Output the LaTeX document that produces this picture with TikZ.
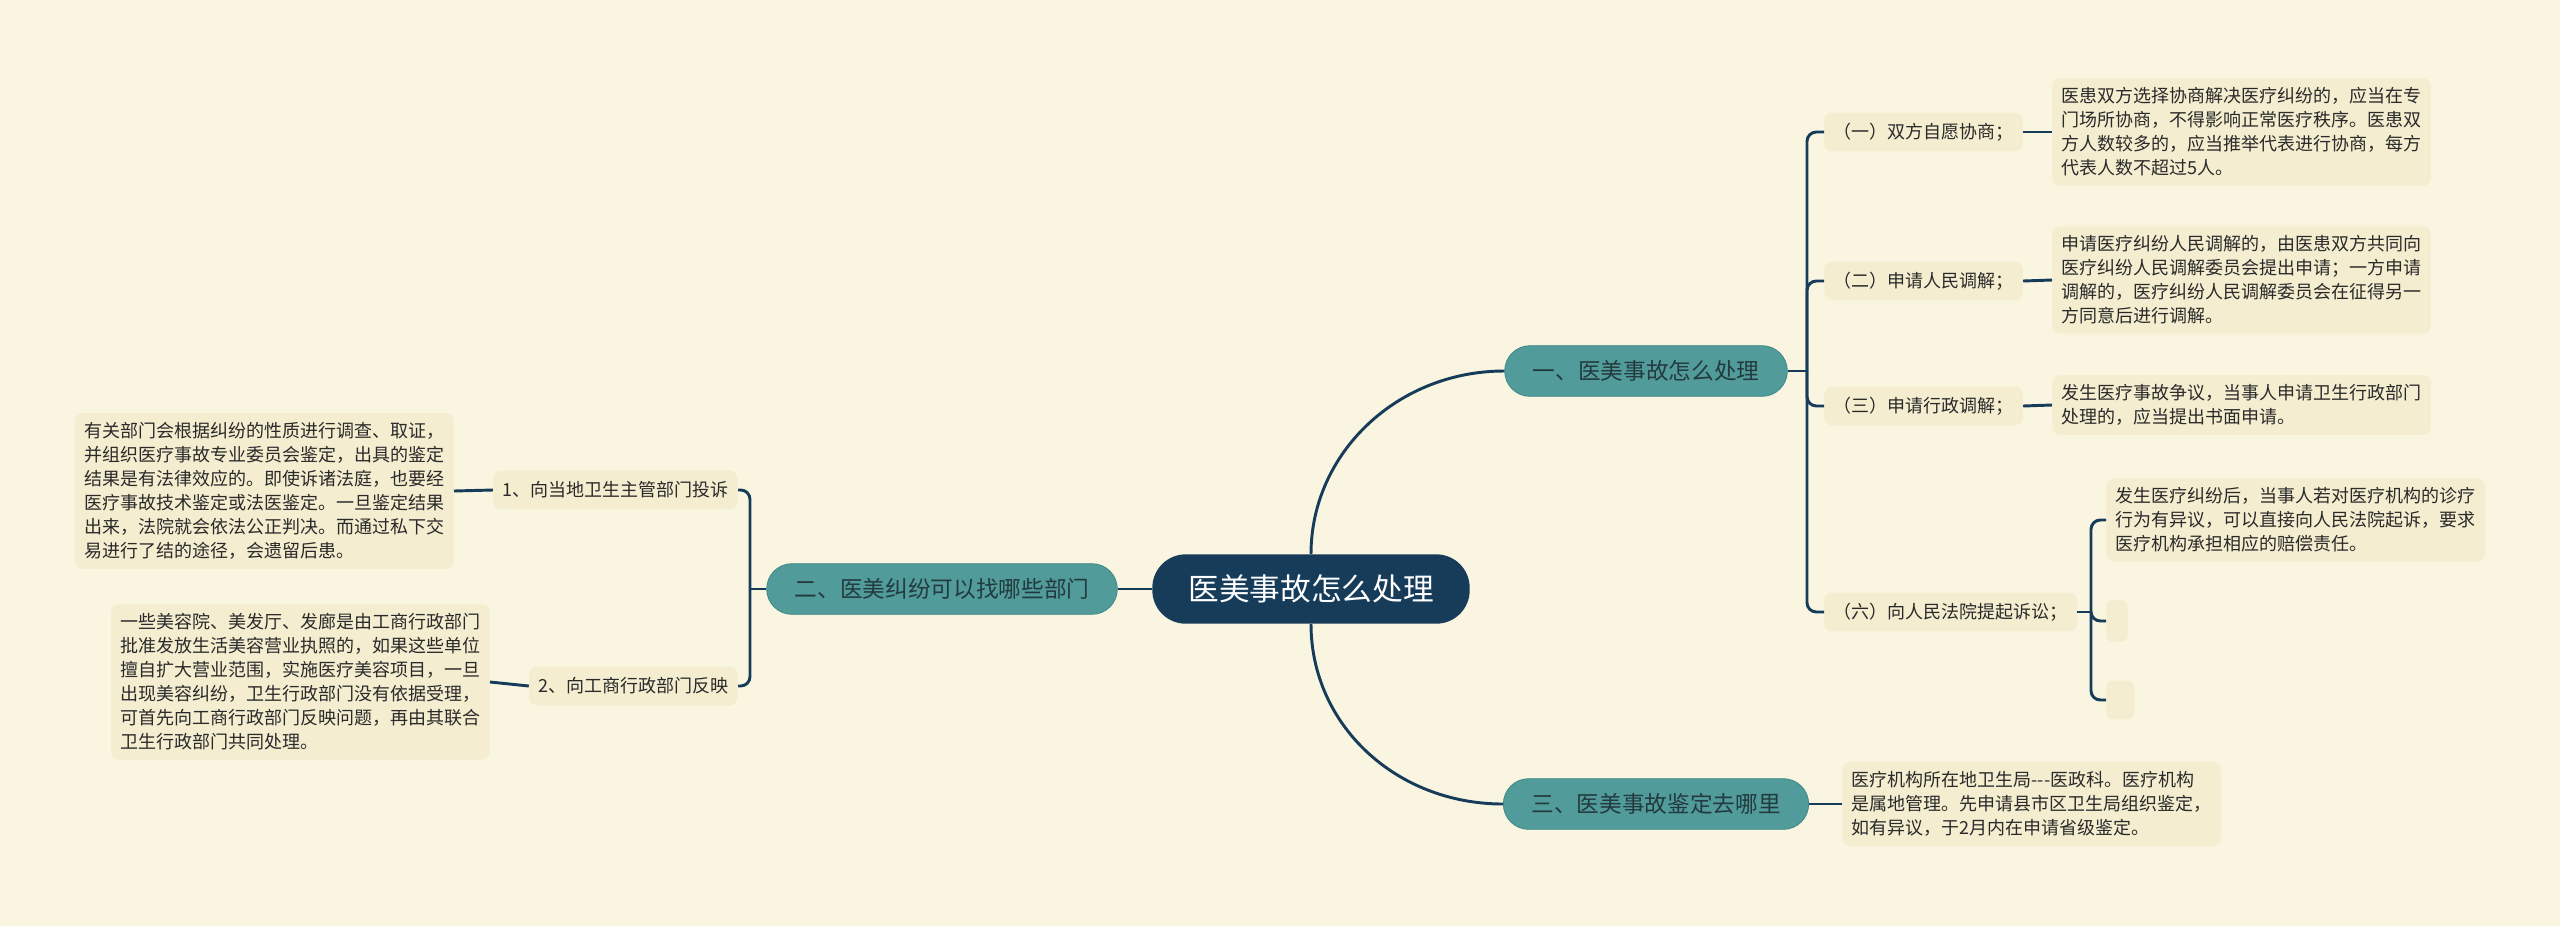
\documentclass[tikz,border=0pt]{standalone}
\usepackage{fontspec}
\setmainfont{Noto Sans CJK SC}
\definecolor{bgc}{HTML}{FAF5E1}
\definecolor{leaffill}{HTML}{F4EDD0}
\definecolor{tealc}{HTML}{519B9B}
\definecolor{tealdark}{HTML}{3F8888}
\definecolor{navy}{HTML}{163C5A}
\definecolor{btext}{HTML}{233A3E}
\definecolor{ltext}{HTML}{2A2A2A}
\begin{document}
\begin{tikzpicture}[x=0.75pt,y=-0.75pt,
  rootbox/.style={fill=navy,text=white,rounded corners=25pt,minimum height=52pt,inner xsep=27pt,inner ysep=0pt,font=\fontsize{23}{28}\selectfont},
  branchbox/.style={fill=tealc,draw=tealdark,line width=0.6pt,text=btext,rounded corners=19pt,minimum height=38pt,inner xsep=21pt,inner ysep=0pt,font=\fontsize{17}{21}\selectfont},
  subbox/.style={fill=leaffill,text=ltext,rounded corners=6pt,minimum height=29pt,inner xsep=7pt,inner ysep=0pt,font=\fontsize{13.5}{17}\selectfont},
  leafbox/.style={fill=leaffill,text=ltext,rounded corners=6pt,inner xsep=7pt,inner ysep=7pt,align=left,font=\fontsize{13.5}{18}\selectfont},
  conn/.style={draw=navy,line width=2.2pt},
  bracket/.style={draw=navy,line width=2.2pt,rounded corners=7pt}]
\fill[bgc] (0,0) rectangle (2560,926);
\useasboundingbox (0,0) rectangle (2560,926);

% root and branches
\node[rootbox] (root) at (1311,589) {医美事故怎么处理};
\node[branchbox] (b1) at (1646,371) {一、医美事故怎么处理};
\node[branchbox] (b2) at (942,589) {二、医美纠纷可以找哪些部门};
\node[branchbox] (b3) at (1656,804) {三、医美事故鉴定去哪里};

% right level 2
\node[subbox,anchor=west] (c1) at (1824,132) {（一）双方自愿协商；};
\node[subbox,anchor=west] (c2) at (1824,281) {（二）申请人民调解；};
\node[subbox,anchor=west] (c3) at (1824,406) {（三）申请行政调解；};
\node[subbox,anchor=west] (c4) at (1824,612) {（六）向人民法院提起诉讼；};

% right leaves
\node[leafbox,anchor=west] (d1) at (2052,132) {医患双方选择协商解决医疗纠纷的，应当在专\\门场所协商，不得影响正常医疗秩序。医患双\\方人数较多的，应当推举代表进行协商，每方\\代表人数不超过5人。};
\node[leafbox,anchor=west] (d2) at (2052,280) {申请医疗纠纷人民调解的，由医患双方共同向\\医疗纠纷人民调解委员会提出申请；一方申请\\调解的，医疗纠纷人民调解委员会在征得另一\\方同意后进行调解。};
\node[leafbox,anchor=west] (d3) at (2052,405) {发生医疗事故争议，当事人申请卫生行政部门\\处理的，应当提出书面申请。};
\node[leafbox,anchor=west] (d4) at (2106,520) {发生医疗纠纷后，当事人若对医疗机构的诊疗\\行为有异议，可以直接向人民法院起诉，要求\\医疗机构承担相应的赔偿责任。};
\node[fill=leaffill,rounded corners=5pt,minimum width=16pt,minimum height=31pt,inner sep=0pt,anchor=west] (e1) at (2106,621) {};
\node[fill=leaffill,rounded corners=5pt,minimum width=21pt,minimum height=29pt,inner sep=0pt,anchor=west] (e2) at (2106,700) {};
\node[leafbox,anchor=west] (d5) at (1842,804) {医疗机构所在地卫生局-{}-{}-医政科。医疗机构\\是属地管理。先申请县市区卫生局组织鉴定，\\如有异议，于2月内在申请省级鉴定。};

% left level 2
\node[subbox,anchor=east] (f1) at (738,490) {1、向当地卫生主管部门投诉};
\node[subbox,anchor=east] (f2) at (738,686) {2、向工商行政部门反映};

% left leaves
\node[leafbox,anchor=east] (g1) at (454,491) {有关部门会根据纠纷的性质进行调查、取证，\\并组织医疗事故专业委员会鉴定，出具的鉴定\\结果是有法律效应的。即使诉诸法庭，也要经\\医疗事故技术鉴定或法医鉴定。一旦鉴定结果\\出来，法院就会依法公正判决。而通过私下交\\易进行了结的途径，会遗留后患。};
\node[leafbox,anchor=east] (g2) at (490,682) {一些美容院、美发厅、发廊是由工商行政部门\\批准发放生活美容营业执照的，如果这些单位\\擅自扩大营业范围，实施医疗美容项目，一旦\\出现美容纠纷，卫生行政部门没有依据受理，\\可首先向工商行政部门反映问题，再由其联合\\卫生行政部门共同处理。};

% connectors root
\draw[conn] (root.north) .. controls +(0,-101) and +(-107,0) .. (b1.west);
\draw[conn] (root.south) .. controls +(0,101) and +(-107,0) .. (b3.west);
\draw[conn] (root.west) -- (b2.east);

% b1 bracket
\coordinate (j1) at (1807,371);
\draw[conn] (b1.east) -- (j1);
\draw[bracket] (j1) |- (c1.west);
\draw[bracket] (j1) |- (c2.west);
\draw[bracket] (j1) |- (c3.west);
\draw[bracket] (j1) |- (c4.west);
\draw[conn] (c1.east) -- (d1.west);
\draw[conn] (c2.east) -- (d2.west);
\draw[conn] (c3.east) -- (d3.west);

% c4 bracket
\coordinate (j3) at (2091,612);
\draw[conn] (c4.east) -- (j3);
\draw[bracket] (j3) |- (d4.west);
\draw[bracket] (j3) |- (e1.west);
\draw[bracket] (j3) |- (e2.west);

% b3
\draw[conn] (b3.east) -- (d5.west);

% b2 bracket
\coordinate (j2) at (750,589);
\draw[conn] (b2.west) -- (j2);
\draw[bracket] (j2) |- (f1.east);
\draw[bracket] (j2) |- (f2.east);
\draw[conn] (f1.west) -- (g1.east);
\draw[conn] (f2.west) -- (g2.east);
\end{tikzpicture}
\end{document}
